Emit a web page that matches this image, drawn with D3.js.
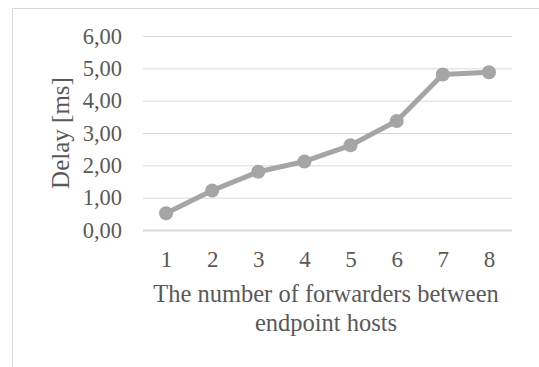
<!DOCTYPE html>
<html>
<head>
<meta charset="utf-8">
<script src="https://cdn.jsdelivr.net/npm/d3@7"></script>
<style>
  html, body { margin: 0; padding: 0; background: #ffffff; }
  svg { display: block; }
  text { font-family: "Liberation Serif", "Times New Roman", serif; fill: #595959; }
</style>
</head>
<body>
<svg id="chart" width="539" height="367"></svg>
<script>
// Delay measured for each count of forwarders between endpoint hosts
const forwarders = ["1", "2", "3", "4", "5", "6", "7", "8"];
const delayMs = [0.52, 1.22, 1.80, 2.12, 2.62, 3.37, 4.81, 4.88];
const yTicks = [0, 1, 2, 3, 4, 5, 6];
const yTitle = "Delay [ms]";
const xTitleLines = ["The number of forwarders between", "endpoint hosts"];

const svg = d3.select("#chart");
const width = 539, height = 367;
const plot = { left: 143, right: 512, top: 36, bottom: 230 };

// Outer chart frame
svg.append("rect")
  .attr("x", 12.5).attr("y", 8.5)
  .attr("width", width + 20).attr("height", height + 20)
  .attr("fill", "none").attr("stroke", "#d9d9d9").attr("stroke-width", 1);

const x = d3.scalePoint()
  .domain(forwarders)
  .range([plot.left, plot.right])
  .padding(0.5);

const y = d3.scaleLinear()
  .domain([0, 6])
  .range([plot.bottom, plot.top]);

const fmt = v => d3.format(".2f")(v).replace(".", ",");

// Horizontal gridlines and y tick labels
const yAxis = d3.axisLeft(y)
  .tickValues(yTicks)
  .tickSize(-(plot.right - plot.left))
  .tickPadding(21)
  .tickFormat(fmt);

const gy = svg.append("g")
  .attr("transform", `translate(${plot.left},0)`)
  .call(yAxis);
gy.select(".domain").remove();
gy.selectAll(".tick line")
  .attr("stroke", "#d9d9d9")
  .attr("stroke-width", d => d === 0 ? 2 : 1);
gy.selectAll(".tick text")
  .attr("font-size", 22.5)
  .attr("fill", "#595959");

// Category labels along the bottom
const xAxis = d3.axisBottom(x).tickSize(0).tickPadding(21);
const gx = svg.append("g")
  .attr("transform", `translate(0,${plot.bottom})`)
  .call(xAxis);
gx.select(".domain").remove();
gx.selectAll(".tick text")
  .attr("font-size", 23)
  .attr("fill", "#595959");

// Series line and markers
const line = d3.line()
  .x((d, i) => x(forwarders[i]))
  .y(d => y(d));

svg.append("path")
  .datum(delayMs)
  .attr("d", line)
  .attr("fill", "none")
  .attr("stroke", "#a5a5a5")
  .attr("stroke-width", 5)
  .attr("stroke-linejoin", "round");

svg.append("g")
  .selectAll("circle")
  .data(delayMs)
  .join("circle")
  .attr("cx", (d, i) => x(forwarders[i]))
  .attr("cy", d => y(d))
  .attr("r", 7)
  .attr("fill", "#a5a5a5");

// Axis titles
svg.append("text")
  .attr("transform", `translate(69,${(plot.top + plot.bottom) / 2}) rotate(-90)`)
  .attr("text-anchor", "middle")
  .attr("font-size", 25)
  .text(yTitle);

svg.append("text")
  .attr("text-anchor", "middle")
  .attr("font-size", 24.5)
  .selectAll("tspan")
  .data(xTitleLines)
  .join("tspan")
  .attr("x", 326)
  .attr("y", (d, i) => 302 + i * 29)
  .text(d => d);
</script>
</body>
</html>
